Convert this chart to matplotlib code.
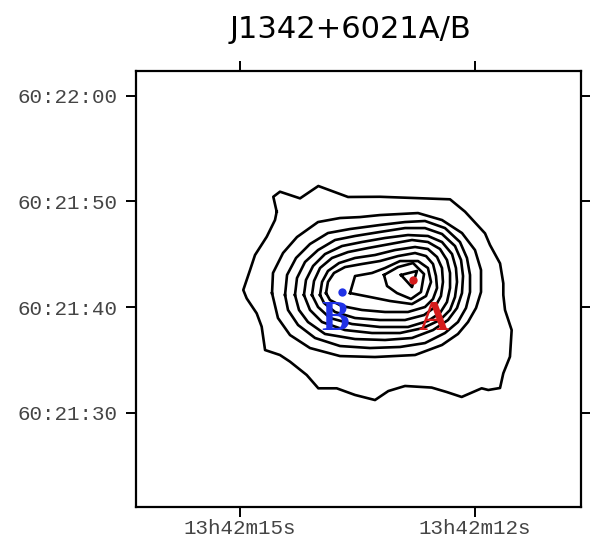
import matplotlib
matplotlib.use("Agg")
import matplotlib.pyplot as plt
import numpy as np

# Offsets in arcsec from RA 13h42m15s (west positive) and Dec 60:21:40
title = "J1342+6021A/B"
xtick_pos = [0.0, 22.25]
xtick_labels = ["13h42m15s", "13h42m12s"]
ytick_pos = [20.0, 10.0, 0.0, -10.0]
ytick_labels = ["60:22:00", "60:21:50", "60:21:40", "60:21:30"]
xlim = (-9.84, 32.26)
ylim = (-18.92, 22.33)

c1_x = [3.47, 3.15, 3.78, 5.68, 7.41, 10.22, 13.24, 19.87, 21.29, 23.18, 23.65, 24.60, 24.91, 24.91, 25.07, 25.70, 25.54, 24.91, 24.60, 23.49, 22.86, 20.97, 19.55, 18.13, 15.61, 14.03, 12.77, 10.88, 9.15, 7.41, 6.31, 4.73, 3.78, 2.37, 2.05, 1.58, 0.63, 0.31, 0.95, 1.42, 2.53, 3.31]
c1_y = [9.02, 10.43, 10.91, 10.28, 11.45, 10.41, 10.43, 10.19, 9.02, 6.97, 5.87, 4.13, 2.24, 1.14, -0.28, -2.18, -4.70, -6.27, -7.66, -7.85, -7.69, -8.51, -8.04, -7.62, -7.47, -7.95, -8.80, -8.32, -7.69, -7.69, -6.43, -5.17, -4.54, -4.07, -1.86, -0.60, 0.82, 1.61, 3.50, 4.92, 6.65, 8.23]

c2_x = [3.03, 3.12, 4.07, 5.39, 7.38, 9.46, 11.35, 13.24, 16.84, 19.11, 21.00, 22.23, 22.80, 22.80, 22.33, 21.57, 20.62, 19.11, 16.56, 12.77, 9.46, 6.62, 4.73, 3.59]
c2_y = [1.32, 3.22, 5.11, 6.62, 8.04, 8.42, 8.51, 8.70, 8.89, 8.23, 7.00, 5.39, 3.50, 1.42, -0.09, -1.42, -2.55, -3.59, -4.54, -4.73, -4.64, -3.88, -2.65, -1.04]

c3_x = [4.26, 4.45, 5.30, 6.62, 8.32, 10.41, 13.24, 15.61, 17.50, 19.39, 20.81, 21.47, 21.76, 21.76, 21.38, 20.62, 19.39, 17.50, 15.14, 12.30, 9.46, 7.10, 5.49, 4.54]
c3_y = [1.14, 3.03, 4.64, 5.96, 7.00, 7.38, 7.76, 8.04, 8.14, 7.47, 6.15, 4.64, 3.03, 1.42, -0.09, -1.42, -2.46, -3.41, -3.78, -3.88, -3.69, -2.93, -1.70, -0.28]

c4_x = [5.20, 5.39, 6.15, 7.38, 8.99, 10.88, 13.24, 15.61, 17.50, 19.11, 20.34, 20.91, 21.10, 21.00, 20.53, 19.68, 18.26, 16.27, 13.72, 10.88, 8.04, 6.43, 5.58]
c4_y = [1.14, 2.74, 4.26, 5.39, 6.34, 6.72, 7.10, 7.47, 7.47, 6.91, 5.77, 4.45, 2.93, 1.32, -0.09, -1.23, -2.18, -2.93, -3.12, -3.03, -2.55, -1.42, -0.28]

c5_x = [6.05, 6.24, 6.91, 8.04, 9.65, 11.54, 13.72, 15.89, 17.78, 19.11, 20.06, 20.43, 20.53, 20.34, 19.87, 18.92, 17.31, 15.14, 12.49, 9.93, 7.76, 6.62]
c5_y = [1.14, 2.55, 3.88, 5.01, 5.77, 6.15, 6.53, 6.81, 6.72, 6.15, 5.01, 3.69, 2.37, 0.95, -0.28, -1.23, -1.99, -2.46, -2.46, -2.18, -1.42, -0.28]

c6_x = [6.81, 7.00, 7.57, 8.70, 10.22, 12.11, 14.19, 16.27, 17.78, 18.92, 19.58, 19.87, 19.87, 19.58, 18.92, 17.78, 15.89, 13.24, 10.60, 8.51, 7.38]
c6_y = [1.14, 2.46, 3.69, 4.64, 5.20, 5.58, 5.96, 6.34, 6.15, 5.49, 4.45, 3.22, 1.80, 0.47, -0.57, -1.32, -1.89, -1.89, -1.61, -1.04, 0.00]

c7_x = [7.57, 7.76, 8.32, 9.37, 10.88, 12.77, 14.66, 16.56, 17.78, 18.64, 19.11, 19.20, 19.01, 18.45, 17.41, 15.61, 13.24, 10.88, 8.99, 7.95]
c7_y = [1.14, 2.37, 3.41, 4.16, 4.64, 4.92, 5.39, 5.68, 5.49, 4.73, 3.69, 2.37, 1.04, 0.00, -0.76, -1.23, -1.23, -1.04, -0.47, 0.38]

c8_x = [8.14, 8.32, 8.89, 9.93, 11.54, 13.24, 14.95, 16.56, 17.60, 18.26, 18.54, 18.64, 18.26, 17.50, 15.89, 13.72, 11.54, 9.65, 8.51]
c8_y = [1.32, 2.37, 3.22, 3.78, 4.07, 4.35, 4.82, 5.11, 4.82, 4.07, 2.93, 1.80, 0.76, 0.00, -0.47, -0.47, -0.28, 0.09, 0.66]

c9_x = [10.41, 10.88, 12.49, 13.72, 15.14, 16.84, 17.78, 18.07, 17.60, 16.27, 14.19, 12.30]
c9_y = [1.32, 2.93, 3.22, 3.69, 4.35, 4.35, 3.69, 2.37, 1.04, 0.28, 0.57, 0.95]

c10_x = [13.62, 14.95, 16.37, 17.41, 17.12, 16.18, 14.85, 13.91]
c10_y = [3.03, 3.78, 4.16, 3.12, 1.42, 0.76, 1.32, 1.99]

c11_x = [15.23, 16.74, 16.27]
c11_y = [3.03, 3.41, 1.89]

contours_x = [c1_x, c2_x, c3_x, c4_x, c5_x, c6_x, c7_x, c8_x, c9_x, c10_x, c11_x]
contours_y = [c1_y, c2_y, c3_y, c4_y, c5_y, c6_y, c7_y, c8_y, c9_y, c10_y, c11_y]

src_names = ["A", "B"]
src_x = [16.37, 9.62]
src_y = [2.55, 1.45]
label_x = [18.35, 8.99]
label_y = [-2.18, -2.18]
src_colors = ["#d41c1c", "#2032e6"]

fig = plt.figure(figsize=(5.90, 5.39), dpi=100)
ax = fig.add_axes([136/590, 1 - 507/539, 445/590, 436/539])

for cx, cy in zip(contours_x, contours_y):
    ax.plot(cx + [cx[0]], cy + [cy[0]], color="black", lw=1.9,
            solid_joinstyle="round")

for n, x, y, lx, ly, c in zip(src_names, src_x, src_y, label_x, label_y, src_colors):
    ax.plot([x], [y], "o", color=c, ms=6, mec="none", zorder=5)
    ax.text(lx, ly, n, color=c, fontsize=30, fontweight="bold",
            family="Liberation Serif", ha="center", va="baseline", zorder=6)

ax.set_xlim(*xlim)
ax.set_ylim(*ylim)
ax.set_xticks(xtick_pos)
ax.set_xticklabels(xtick_labels)
ax.set_yticks(ytick_pos)
ax.set_yticklabels(ytick_labels)
for lab in ax.get_xticklabels() + ax.get_yticklabels():
    lab.set_family("Liberation Mono")
    lab.set_fontsize(15)
    lab.set_color("#444444")
ax.tick_params(direction="out", length=7, width=1.4, top=True, right=True,
               labeltop=False, labelright=False, color="black")
ax.tick_params(axis="y", pad=6)
ax.tick_params(axis="x", pad=2)
for s in ax.spines.values():
    s.set_linewidth(1.6)

fig.text(350/590, 1 - 30/539, title, fontsize=22, ha="center", va="center",
         family="DejaVu Sans")

fig.savefig("out.png", dpi=100)
